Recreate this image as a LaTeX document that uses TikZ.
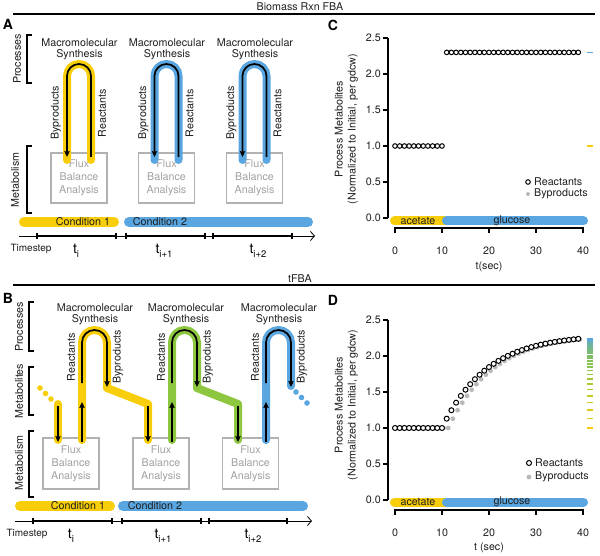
\documentclass[tikz,border=0pt]{standalone}
\usepackage{fontspec}
\setmainfont{TeX Gyre Heros}
\usetikzlibrary{arrows.meta}
\definecolor{yel}{RGB}{248,206,10}
\definecolor{blu}{RGB}{90,166,224}
\definecolor{grn}{RGB}{141,198,63}
\definecolor{boxgray}{RGB}{178,178,178}
\definecolor{fbatext}{RGB}{160,160,160}
\definecolor{dotgray}{RGB}{185,185,185}
\definecolor{txt}{RGB}{30,30,30}
\begin{document}
\begin{tikzpicture}[x=1pt,y=-1pt,
  lbl/.style={font=\fontsize{10.7}{11}\selectfont, inner sep=0pt, text=txt},
  rlbl/.style={lbl, rotate=90},
  letter/.style={font=\bfseries\fontsize{14}{14}\selectfont, inner sep=0pt},
  band/.style={line width=8pt, line cap=round, line join=round},
  flowline/.style={line width=1.7pt, -{Stealth[length=6pt,width=5.5pt,inset=1pt]}},
  fba/.style={draw=boxgray, line width=1.8pt, minimum width=56pt, minimum height=50pt, inner sep=0pt,
    font=\fontsize{10.7}{13}\selectfont, text=fbatext, align=center},
  brk/.style={line width=1.3pt},
  cond/.style={line width=10pt, line cap=round},
  seg/.style={line width=2pt},
  tick/.style={line width=1.4pt},
  tlbl/.style={font=\fontsize{14}{14}\selectfont, inner sep=0pt},
  ax/.style={line width=1.2pt},
  circ/.style={draw=black, fill=white, line width=1pt},
  cbar/.style={line width=9pt, line cap=round}
]
\useasboundingbox (0,0) rectangle (600,556);

% ---------- headings ----------
\node[lbl] (h1) at (300,7) {Biomass Rxn FBA};
\draw[line width=2pt] (13,14) -- (595,14);
\node[lbl] (h2) at (300,279) {tFBA};
\draw[line width=2pt] (13,285) -- (595,285);

\node[letter] (LA) at (8,24) {A};
\node[letter] (LB) at (8,298) {B};
\node[letter] (LC) at (333,25) {C};
\node[letter] (LD) at (333,300) {D};

% ================= Panel A =================
\node[rlbl] (procA) at (17,59) {Processes};
\draw[brk] (32,35) -- (27,35) -- (27,83) -- (32,83);
\node[rlbl] (metA) at (15,180) {Metabolism};
\draw[brk] (32,146) -- (27,146) -- (27,213) -- (32,213);

\node[fba] (fa1) at (79,178) {Flux\\Balance\\Analysis};
\node[fba] (fa2) at (166.5,178) {Flux\\Balance\\Analysis};
\node[fba] (fa3) at (254.5,178) {Flux\\Balance\\Analysis};

\foreach \xl/\xr/\col/\n in {67/91/yel/1, 154.5/178.5/blu/2, 242.5/266.5/blu/3} {
  \node[lbl, align=center] (msA\n) at ({(\xl+\xr)/2+0.5},49) {Macromolecular\\Synthesis};
  \coordinate (aL\n) at (\xl,157);
  \coordinate (aR\n) at (\xr,157);
  \draw[band, draw=\col, rounded corners=12pt] (\xl,160) -- (\xl,64) -- (\xr,64) -- (\xr,160);
  \draw[flowline, rounded corners=12pt] (aR\n) -- (\xr,64) -- (\xl,64) -- (aL\n);
  \node[rlbl] (byA\n) at (\xl-11,113) {Byproducts};
  \node[rlbl] (reA\n) at (\xr+11,113) {Reactants};
}

\draw[cond, yel] (24,222) -- (114,222);
\draw[cond, blu] (129,222) -- (308,222);
\node[lbl] (c1A) at (83,222) {Condition 1};
\node[lbl] (c2A) at (160,222) {Condition 2};

\draw[line width=0.8pt, -{Straight Barb[length=4pt,width=9pt]}] (19,236) -- (315,236);
\foreach \a/\b in {37/116, 126/205, 213/292} {
  \draw[seg] (\a,236) -- (\b,236);
  \draw[tick] (\a,233) -- (\a,239);
  \draw[tick] (\b,233) -- (\b,239);
}
\node[lbl, font=\fontsize{10}{11}\selectfont] (tsA) at (31,249) {Timestep};
\node[tlbl] (tA1) at (76,251) {t\raisebox{-3.5pt}{\fontsize{9.5}{9.5}\selectfont i}};
\node[tlbl] (tA2) at (164,251) {t\raisebox{-3.5pt}{\fontsize{9.5}{9.5}\selectfont i+1}};
\node[tlbl] (tA3) at (258,251) {t\raisebox{-3.5pt}{\fontsize{9.5}{9.5}\selectfont i+2}};

% ================= Panel B =================
\node[rlbl] (procB) at (19,327) {Processes};
\draw[brk] (34,302) -- (29,302) -- (29,351) -- (34,351);
\node[rlbl] (mtbB) at (19,391) {Metabolites};
\draw[brk] (34,367) -- (29,367) -- (29,415) -- (34,415);
\node[rlbl] (metB) at (19,463) {Metabolism};
\draw[brk] (34,431) -- (29,431) -- (29,497) -- (34,497);

\node[fba, minimum height=51pt] (fb1) at (71,463.5) {Flux\\Balance\\Analysis};
\node[fba, minimum height=51pt] (fb2) at (161,463.5) {Flux\\Balance\\Analysis};
\node[fba, minimum height=51pt] (fb3) at (250.5,463.5) {Flux\\Balance\\Analysis};

\node[lbl, align=center] (msB1) at (95,314) {Macromolecular\\Synthesis};
\node[lbl, align=center] (msB2) at (186,314) {Macromolecular\\Synthesis};
\node[lbl, align=center] (msB3) at (279,314) {Macromolecular\\Synthesis};

% bands
\fill[yel] (40,388) circle (2.8);
\fill[yel] (45.5,393.5) circle (2.8);
\fill[yel] (51,399) circle (2.8);
\draw[band, yel] (58,404) -- (58,440);
\draw[band, yel, rounded corners=12.5pt] (82,440) -- (82,330) -- (107,330) -- (107,388);
\draw[band, yel] (107,388) -- (148,404) -- (148,440);
\draw[band, grn, rounded corners=12.5pt] (172,440) -- (172,330) -- (197,330) -- (197,388);
\draw[band, grn] (197,388) -- (238,404) -- (238,440);
\draw[band, blu, rounded corners=12.5pt] (266,440) -- (266,330) -- (291,330) -- (291,386);
\fill[blu] (296,392) circle (2.8);
\fill[blu] (301.5,397.5) circle (2.8);
\fill[blu] (307,403) circle (2.8);

% black flows
\foreach \xl/\xr/\n in {82/107/1, 172/197/2, 266/291/3} {
  \coordinate (bS\n) at (\xl,383);
  \coordinate (bE\n) at (\xr,387);
  \coordinate (bU0\n) at (\xl,442);
  \coordinate (bU1\n) at (\xl,402);
  \draw[flowline, rounded corners=12.5pt] (bS\n) -- (\xl,330) -- (\xr,330) -- (bE\n);
  \draw[flowline] (bU0\n) -- (bU1\n);
  \node[rlbl] (reB\n) at (\xl-11,357) {Reactants};
  \node[rlbl] (byB\n) at (\xr+11,357) {Byproducts};
}
\foreach \x/\n in {58/1, 148/2, 238/3} {
  \coordinate (dT\n) at (\x,406);
  \coordinate (dB\n) at (\x,442);
  \draw[flowline] (dT\n) -- (dB\n);
}

\draw[cond, yel] (20,506) -- (110,506);
\draw[cond, blu] (123,506) -- (303,506);
\node[lbl] (c1B) at (78,506) {Condition 1};
\node[lbl] (c2B) at (155,506) {Condition 2};

\draw[line width=0.8pt, -{Straight Barb[length=4pt,width=9pt]}] (15,521) -- (312,521);
\foreach \a/\b in {33/112, 122/201, 209/287} {
  \draw[seg] (\a,521) -- (\b,521);
  \draw[tick] (\a,518) -- (\a,524);
  \draw[tick] (\b,518) -- (\b,524);
}
\node[lbl, font=\fontsize{10}{11}\selectfont] (tsB) at (27,534) {Timestep};
\node[tlbl] (tB1) at (71,536) {t\raisebox{-3.5pt}{\fontsize{9.5}{9.5}\selectfont i}};
\node[tlbl] (tB2) at (163,536) {t\raisebox{-3.5pt}{\fontsize{9.5}{9.5}\selectfont i+1}};
\node[tlbl] (tB3) at (253,536) {t\raisebox{-3.5pt}{\fontsize{9.5}{9.5}\selectfont i+2}};

% ================= Panel C =================
\node[lbl, rotate=90, align=center, font=\fontsize{10.7}{13}\selectfont] (ylC) at (346.5,129)
  {Process Metabolites\\(Normalized to Initial, per gdcw)};
\draw[ax] (388,38) -- (388,218);
\foreach \v/\l in {0/0.0, 0.5/0.5, 1/1.0, 1.5/1.5, 2/2.0, 2.5/2.5} {
  \draw[ax] (383,{218-72*\v}) -- (388,{218-72*\v});
  \node[lbl, anchor=east] at (381,{218-72*\v}) {\l};
}
\draw[cbar, yel] (394.5,221) -- (446,221);
\draw[cbar, blu] (446.5,221) -- (583.5,221);
\node[lbl] (acC) at (418,221) {acetate};
\node[lbl] (glC) at (512,221) {glucose};
\draw[ax] (395,233) -- (395,228) -- (583,228) -- (583,233);
\foreach \t in {0,10,20,30,40} {
  \draw[ax] ({395+4.7*\t},228) -- ({395+4.7*\t},233);
  \node[lbl] at ({395+4.7*\t},251) {\t};
}
\node[lbl] (xlC) at (489,267) {t(sec)};
\foreach \t in {0,...,10} { \draw[circ] ({395+4.7*\t},146) circle (2.3); }
\foreach \t in {11,...,39} { \draw[circ] ({395+4.7*\t},52.4) circle (2.3); }
\draw[blu, line width=1.6pt] (587,52.4) -- (593,52.4);
\draw[yel, line width=1.6pt] (587,146) -- (593,146);
\draw[circ] (528,182) circle (2.3);
\node[lbl, anchor=west] (lgC1) at (534,182) {Reactants};
\fill[dotgray] (528,194) circle (2);
\node[lbl, anchor=west] (lgC2) at (534,194) {Byproducts};

% ================= Panel D =================
\node[lbl, rotate=90, align=center, font=\fontsize{10.7}{13}\selectfont] (ylD) at (346.5,405)
  {Process Metabolites\\(Normalized to Initial, per gdcw)};
\draw[ax] (388,320) -- (388,500);
\foreach \v/\l in {0/0.0, 0.5/0.5, 1/1.0, 1.5/1.5, 2/2.0, 2.5/2.5} {
  \draw[ax] (383,{500-72*\v}) -- (388,{500-72*\v});
  \node[lbl, anchor=east] at (381,{500-72*\v}) {\l};
}
\draw[cbar, yel] (394.5,502) -- (446,502);
\draw[cbar, blu] (446.5,502) -- (583.5,502);
\node[lbl] (acD) at (418,502) {acetate};
\node[lbl] (glD) at (512,502) {glucose};
\draw[ax] (395,515) -- (395,510) -- (583,510) -- (583,515);
\foreach \t in {0,10,20,30,40} {
  \draw[ax] ({395+4.7*\t},510) -- ({395+4.7*\t},515);
  \node[lbl] at ({395+4.7*\t},533) {\t};
}
\node[lbl] (xlD) at (489,548) {t (sec)};
\foreach \t in {0,...,39} {
  \pgfmathsetmacro\bv{\t<12 ? 1 : 1+1.3*(1-exp(-(\t-11)/9.5))}
  \fill[dotgray] ({395+4.7*\t+1.5},{500-72*\bv}) circle (2.4);
}
\foreach \t in {0,...,39} {
  \pgfmathsetmacro\rv{\t<11 ? 1 : 1+1.3*(1-exp(-(\t-10)/9.5))}
  \draw[circ] ({395+4.7*\t},{500-72*\rv}) circle (2.5);
}
\foreach \t in {10,...,39} {
  \pgfmathsetmacro\rv{\t<11 ? 1 : 1+1.3*(1-exp(-(\t-10)/9.5))}
  \pgfmathsetmacro\ff{(\t-10)/29}
  \pgfmathtruncatemacro\pa{\ff<0.3 ? 100*(1-\ff/0.3) : 0}
  \pgfmathtruncatemacro\pb{\ff<0.3 ? 100 : 100*(1-(\ff-0.3)/0.7)}
  \ifnum\pa>0 \colorlet{dc}{yel!\pa!grn}\else\colorlet{dc}{grn!\pb!blu}\fi
  \draw[dc, line width=1.5pt] (587,{500-72*\rv}) -- (593,{500-72*\rv});
}
\draw[circ] (529,463) circle (2.5);
\node[lbl, anchor=west] (lgD1) at (535,463) {Reactants};
\fill[dotgray] (529,477) circle (2.4);
\node[lbl, anchor=west] (lgD2) at (535,477) {Byproducts};
\end{tikzpicture}
\end{document}
